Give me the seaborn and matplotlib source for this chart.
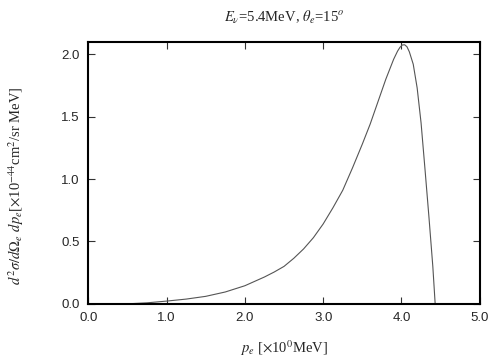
import numpy as np
import pandas as pd
import matplotlib
matplotlib.use('Agg')
import matplotlib.pyplot as plt
import seaborn as sns

# electron momentum [MeV] and cross section [1e-44 cm^2/sr MeV]
p_e = [0.5, 0.75, 1.0, 1.25, 1.5, 1.75, 2.0, 2.125, 2.25, 2.375, 2.5, 2.625, 2.75,
       2.875, 3.0, 3.125, 3.25, 3.375, 3.5, 3.6, 3.7, 3.8, 3.9, 3.95, 3.98, 4.01,
       4.04, 4.07, 4.1, 4.15, 4.2, 4.25, 4.3, 4.35, 4.4, 4.43]
xsec = [0.0, 0.008, 0.022, 0.038, 0.06, 0.095, 0.145, 0.18, 0.215, 0.255, 0.30, 0.365,
        0.44, 0.53, 0.64, 0.77, 0.91, 1.09, 1.28, 1.44, 1.62, 1.80, 1.96, 2.025, 2.055, 2.074,
        2.076, 2.06, 2.02, 1.92, 1.73, 1.45, 1.08, 0.70, 0.30, 0.0]

x_ticks = [0.0, 1.0, 2.0, 3.0, 4.0, 5.0]
y_ticks = [0.0, 0.5, 1.0, 1.5, 2.0]

df = pd.DataFrame({'p': p_e, 'xs': xsec})

sns.set_style("ticks")
plt.rcParams['mathtext.fontset'] = 'stix'
plt.rcParams['font.family'] = ['Liberation Sans', 'DejaVu Sans']
plt.rcParams['lines.solid_joinstyle'] = 'round'

fig = plt.figure(figsize=(5.04, 3.6), dpi=100)
ax = fig.add_axes([0.175, 0.156, 0.777, 0.728])
sns.lineplot(data=df, x='p', y='xs', ax=ax, color='#555555', linewidth=0.8)

ax.set_xlim(0, 5)
ax.set_ylim(0, 2.1)
ax.set_xticks(x_ticks)
ax.set_yticks(y_ticks)
ax.set_xticklabels([f'{v:.1f}' for v in x_ticks])
ax.set_yticklabels([f'{v:.1f}' for v in y_ticks])
ax.tick_params(direction='in', top=True, right=True, length=5, width=0.8,
               labelsize=9.5, pad=6, color='#333333')
for s in ax.spines.values():
    s.set_linewidth(1.5)
    s.set_color('black')

serif = ['Liberation Serif', 'DejaVu Serif']
ax.set_title(r'$E_{\nu}$=5.4MeV, $\theta_e$=15$^o$', fontsize=10.5, family=serif, pad=14)
ax.set_xlabel(r'$p_e$ [$\times$10$^0$MeV]', fontsize=10.5, family=serif, labelpad=10)
ax.set_ylabel(r'$d^2\sigma/d\Omega_e\ dp_e$[$\times$10$^{-44}$cm$^2$/sr MeV]',
              fontsize=10.5, family=serif)
ax.yaxis.set_label_coords(-0.16, 0.45)

fig.savefig('out.png', dpi=100)
plt.close(fig)
